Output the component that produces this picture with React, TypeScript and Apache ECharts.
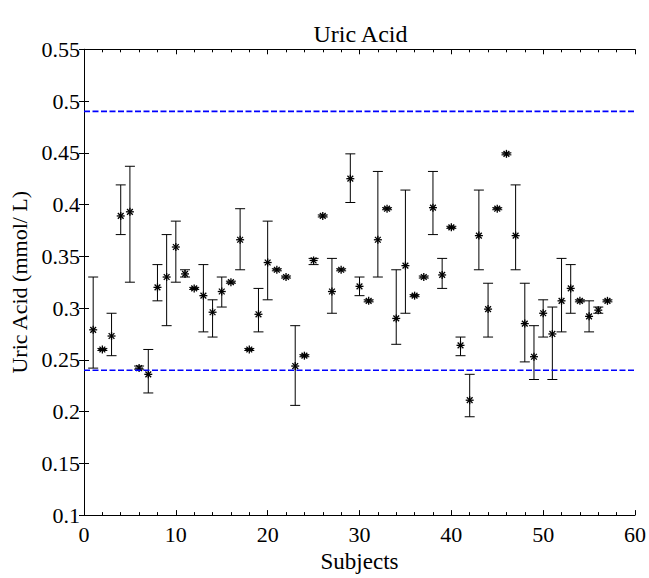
import React, { useEffect, useRef } from "react";
import * as echarts from "echarts";

const subjects = [
  1, 2, 3, 4, 5, 6, 7, 8, 9, 10, 11, 12, 13, 14, 15, 16, 17, 18, 19, 20,
  21, 22, 23, 24, 25, 26, 27, 28, 29, 30, 31, 32, 33, 34, 35, 36, 37, 38, 39, 40,
  41, 42, 43, 44, 45, 46, 47, 48, 49, 50, 51, 52, 53, 54, 55, 56, 57,
];
const means = [
  0.279, 0.26, 0.273, 0.389, 0.393, 0.242, 0.236, 0.32, 0.33, 0.359,
  0.333, 0.319, 0.312, 0.296, 0.316, 0.325, 0.366, 0.26, 0.294, 0.344,
  0.337, 0.33, 0.244, 0.254, 0.346, 0.389, 0.316, 0.337, 0.425, 0.321,
  0.307, 0.366, 0.396, 0.29, 0.341, 0.312, 0.33, 0.397, 0.332, 0.378,
  0.264, 0.211, 0.37, 0.299, 0.396, 0.449, 0.37, 0.285, 0.253, 0.295,
  0.275, 0.307, 0.319, 0.307, 0.292, 0.298, 0.307,
];
const upper = [
  0.33, 0.261, 0.295, 0.419, 0.437, 0.244, 0.26, 0.342, 0.371, 0.384,
  0.337, 0.32, 0.342, 0.308, 0.33, 0.326, 0.396, 0.261, 0.319, 0.384,
  0.338, 0.331, 0.283, 0.255, 0.348, 0.39, 0.348, 0.338, 0.449, 0.33,
  0.308, 0.432, 0.397, 0.337, 0.414, 0.313, 0.331, 0.432, 0.348, 0.379,
  0.272, 0.236, 0.414, 0.324, 0.397, 0.45, 0.419, 0.324, 0.283, 0.308,
  0.301, 0.348, 0.342, 0.308, 0.307, 0.301, 0.308,
];
const lower = [
  0.242, 0.259, 0.254, 0.371, 0.325, 0.241, 0.218, 0.307, 0.283, 0.325,
  0.33, 0.318, 0.277, 0.272, 0.301, 0.324, 0.337, 0.259, 0.277, 0.308,
  0.336, 0.329, 0.206, 0.253, 0.342, 0.388, 0.295, 0.336, 0.402, 0.312,
  0.306, 0.33, 0.395, 0.265, 0.295, 0.311, 0.329, 0.371, 0.319, 0.377,
  0.254, 0.195, 0.337, 0.272, 0.395, 0.448, 0.337, 0.248, 0.231, 0.272,
  0.231, 0.277, 0.295, 0.306, 0.277, 0.295, 0.306,
];
const refLines = [0.49, 0.24];
const xTicks = { min: 0, max: 60, interval: 10 };
const yTicks = { min: 0.1, max: 0.55, interval: 0.05 };

const FONT = "'Liberation Serif', 'DejaVu Serif', serif";

export default function App() {
  const ref = useRef<HTMLDivElement>(null);
  useEffect(() => {
    document.body.style.margin = "0";
    if (!ref.current) return;
    const chart = echarts.init(ref.current, undefined, { renderer: "svg" });
    const data = subjects.map((s, i) => [s, means[i], lower[i], upper[i]]);
    const axisLine = { show: true, lineStyle: { color: "#000", width: 1 } };
    const xCommon = {
      type: "value",
      min: xTicks.min,
      max: xTicks.max,
      interval: xTicks.interval,
      axisLine,
      axisTick: { show: true, inside: true, length: 5, lineStyle: { color: "#000" } },
      minorTick: { show: true, splitNumber: 5, length: 3, lineStyle: { color: "#000" } },
      splitLine: { show: false },
      minorSplitLine: { show: false },
    };
    const yCommon = {
      type: "value",
      min: yTicks.min,
      max: yTicks.max,
      interval: yTicks.interval,
      axisLine,
      axisTick: { show: true, inside: true, length: 5, lineStyle: { color: "#000" } },
      splitLine: { show: false },
    };
    chart.setOption({
      animation: false,
      backgroundColor: "#fff",
      grid: { left: 84, right: 12, top: 49.3, bottom: 52.5, containLabel: false },
      graphic: [
        {
          type: "text",
          x: 360.5,
          y: 33.5,
          style: {
            text: "Uric Acid",
            textAlign: "center",
            textVerticalAlign: "middle",
            font: `24px ${FONT}`,
            fill: "#000",
          },
        },
      ],
      xAxis: [
        {
          ...xCommon,
          position: "bottom",
          name: "Subjects",
          nameLocation: "middle",
          nameGap: 23,
          nameTextStyle: { fontFamily: FONT, fontSize: 23, color: "#000" },
          axisLabel: { show: true, fontFamily: FONT, fontSize: 22, color: "#000", margin: 8 },
        },
        {
          ...xCommon,
          position: "top",
          axisLabel: { show: false },
        },
      ],
      yAxis: [
        {
          ...yCommon,
          position: "left",
          name: "Uric Acid (mmol/ L)",
          nameLocation: "middle",
          nameGap: 52.5,
          nameTextStyle: { fontFamily: FONT, fontSize: 22, color: "#000" },
          axisLabel: {
            show: true,
            fontFamily: FONT,
            fontSize: 22,
            color: "#000",
            margin: 4,
            formatter: (v: number) => String(+v.toFixed(2)),
          },
        },
        {
          ...yCommon,
          position: "right",
          axisLabel: { show: false },
        },
      ],
      series: [
        {
          type: "custom",
          xAxisIndex: 0,
          yAxisIndex: 0,
          data,
          encode: { x: 0, y: [1, 2, 3] },
          renderItem: (params: any, api: any) => {
            const x = api.value(0);
            const m = api.value(1);
            const lo = api.value(2);
            const hi = api.value(3);
            const pm = api.coord([x, m]);
            const pl = api.coord([x, lo]);
            const ph = api.coord([x, hi]);
            const cw = 5;
            const r = 4;
            const d = r * 0.72;
            const style = { stroke: "#000", lineWidth: 1, fill: "none" };
            const line = (x1: number, y1: number, x2: number, y2: number, lw = 1) => ({
              type: "line",
              shape: { x1, y1, x2, y2 },
              style: { ...style, lineWidth: lw },
            });
            return {
              type: "group",
              children: [
                line(pl[0], pl[1], ph[0], ph[1]),
                line(pl[0] - cw, pl[1], pl[0] + cw, pl[1]),
                line(ph[0] - cw, ph[1], ph[0] + cw, ph[1]),
                line(pm[0] - r, pm[1], pm[0] + r, pm[1], 1.3),
                line(pm[0], pm[1] - r, pm[0], pm[1] + r, 1.3),
                line(pm[0] - d, pm[1] - d, pm[0] + d, pm[1] + d, 1.3),
                line(pm[0] - d, pm[1] + d, pm[0] + d, pm[1] - d, 1.3),
              ],
            };
          },
          z: 2,
        },
        ...refLines.map((v) => ({
          type: "line",
          xAxisIndex: 0,
          yAxisIndex: 0,
          data: [
            [xTicks.min, v],
            [xTicks.max, v],
          ],
          symbol: "none",
          lineStyle: { color: "#0000FF", width: 1.6, type: [6, 2.5] },
          z: 3,
        })),
      ],
    });
    return () => chart.dispose();
  }, []);
  return <div ref={ref} style={{ width: 649, height: 578 }} />;
}
